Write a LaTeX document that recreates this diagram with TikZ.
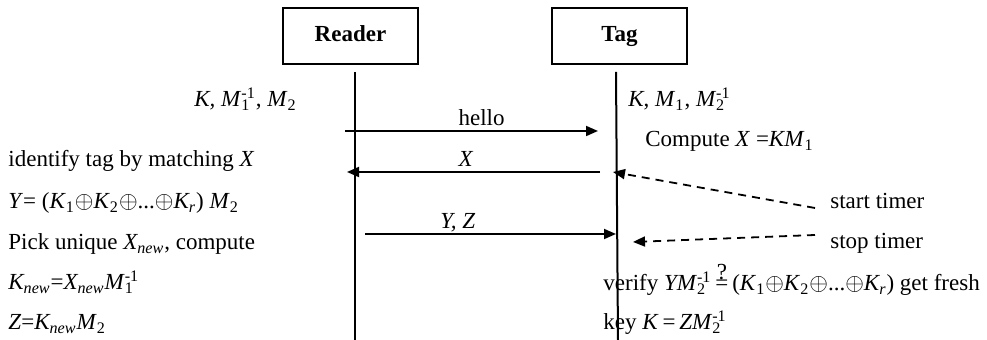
\documentclass[tikz,border=0pt]{standalone}
\usepackage{fontspec}
\setmainfont{Liberation Serif}
\usetikzlibrary{arrows.meta}

\newcommand{\tsub}[1]{\textsubscript{#1}}
\newcommand{\tsup}[1]{\textsuperscript{#1}}
\newcommand{\tsubsup}[2]{\rlap{\textsubscript{#1}}\textsuperscript{#2}}
\newcommand{\qeq}{\ooalign{\hfil\raisebox{1.1ex}{?}\hfil\cr=\cr}}
\newcommand{\xo}{$\oplus$}

\begin{document}
\begin{tikzpicture}[x=0.5pt,y=-0.5pt,font=\fontsize{11.5}{13}\selectfont,
  box/.style={draw, line width=1pt, minimum width=67.5pt, minimum height=28pt, text height=8pt, text depth=2.5pt, font=\fontsize{11.5}{13}\selectfont\bfseries},
  txt/.style={anchor=base west, inner sep=0pt},
  lbl/.style={anchor=base, inner sep=0pt, yshift=2.5pt},
  life/.style={line width=1pt},
  msg/.style={line width=0.9pt, -{Triangle[length=6pt,width=5pt]}},
  timer/.style={msg, dash pattern=on 4pt off 3pt}]

\useasboundingbox (0,0) rectangle (987,340);

% the two parties
\node [box] (reader) at (350.5,36) {Reader};
\node [box] (tag) at (619.5,36) {Tag};

\coordinate (reader-top) at (355,72);
\coordinate (reader-bot) at (355,340);
\coordinate (tag-top) at (616,72);
\coordinate (tag-bot) at (618,340);
\draw [life] (reader-top) -- (reader-bot);
\draw [life] (tag-top) -- (tag-bot);

% what each side holds
\node [anchor=base east, inner sep=0pt] (rkeys) at (297,107) {\textit{K, M}\tsubsup{1}{-1}, \textit{M}\tsub{2}};
\node [txt] (tkeys) at (628,107) {\textit{K}, \textit{M}\tsub{1}, \textit{M}\tsubsup{2}{-1}};

% messages
\coordinate (hello-s) at (345,131);
\coordinate (hello-e) at (598,131);
\draw [msg] (hello-s) -- node [lbl, pos=.54] (hello) {hello} (hello-e);

\coordinate (x-s) at (600,172);
\coordinate (x-e) at (347,172);
\draw [msg] (x-s) -- node [lbl, pos=.53] (xlab) {\textit{X}} (x-e);

\coordinate (yz-s) at (365,234);
\coordinate (yz-e) at (616,234);
\draw [msg] (yz-s) -- node [lbl, pos=.37] (yzlab) {\textit{Y, Z}} (yz-e);

% tag side
\node [txt] (compute) at (645,147) {Compute \textit{X} =\textit{KM}\tsub{1}};
\node [txt] (verify) at (603,291) {verify \textit{YM}\tsubsup{2}{-1}\kern2pt\qeq\,(\textit{K}\tsub{1}\xo\textit{K}\tsub{2}\xo...\xo\textit{K\tsub{r}}) get fresh};
\node [txt] (freshkey) at (603,330) {key \textit{K}\,=\,\textit{ZM}\tsubsup{2}{-1}};

% timer
\node [txt] (start) at (830,209) {start timer};
\node [txt] (stop) at (830,249) {stop timer};
\coordinate (start-s) at (815,208);
\coordinate (start-e) at (613,172);
\coordinate (stop-s) at (815,235);
\coordinate (stop-e) at (633,242);
\draw [timer] (start-s) -- (start-e);
\draw [timer] (stop-s) -- (stop-e);

% reader side
\node [txt] (identify) at (8,167) {identify tag by matching \textit{X}};
\node [txt] (ycalc) at (8,209) {\textit{Y}= (\textit{K}\tsub{1}\xo\textit{K}\tsub{2}\xo...\xo\textit{K\tsub{r}}) \textit{M}\tsub{2}};
\node [txt] (pick) at (8,250) {Pick unique \textit{X\tsub{new}}, compute};
\node [txt] (knew) at (8,290) {\textit{K\tsub{new}}=\textit{X\tsub{new}M}\tsubsup{1}{-1}};
\node [txt] (zcalc) at (8,330) {\textit{Z}=\textit{K\tsub{new}M}\tsub{2}};

\end{tikzpicture}
\end{document}
